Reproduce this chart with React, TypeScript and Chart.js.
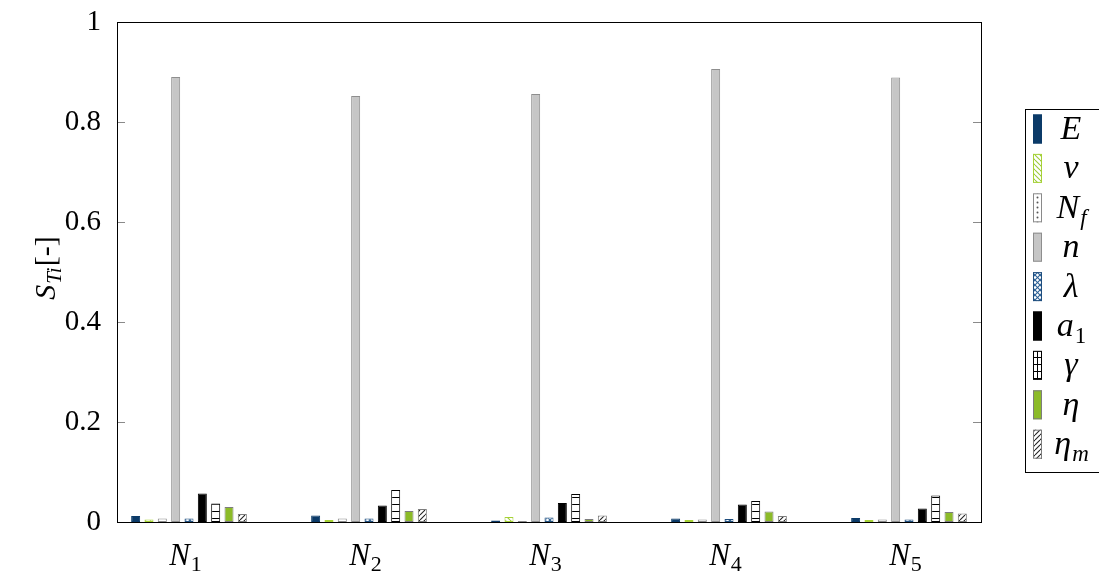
import React, { useEffect, useRef } from 'react';
import { Chart, registerables } from 'chart.js';

Chart.register(...registerables);

// Group subscripts (N_1 ... N_5) and their positions on the x axis
const groupSubs = ['1', '2', '3', '4', '5'];
const groupPositions = [1, 2, 3, 4, 5];

// Total-effect sensitivity index per parameter, one value per group
const valuesE = [0.012, 0.013, 0.003, 0.007, 0.008];
const valuesNu = [0.005, 0.004, 0.010, 0.004, 0.004];
const valuesNf = [0.007, 0.007, 0.002, 0.005, 0.005];
const valuesN = [0.890, 0.852, 0.856, 0.906, 0.889];
const valuesLambda = [0.007, 0.007, 0.009, 0.006, 0.005];
const valuesA1 = [0.057, 0.033, 0.038, 0.035, 0.027];
const valuesGamma = [0.037, 0.064, 0.056, 0.042, 0.053];
const valuesEta = [0.030, 0.022, 0.006, 0.021, 0.020];
const valuesEtaM = [0.016, 0.026, 0.013, 0.012, 0.017];

const yTicks = [0, 0.2, 0.4, 0.6, 0.8, 1];

const SERIF = '"Liberation Serif", "DejaVu Serif", serif';

type Fill = 'solid' | 'nw' | 'dots' | 'cross' | 'rungs' | 'ne';

interface SeriesDef {
  main: string;
  sub?: string;
  subItalic?: boolean;
  values: number[];
  fill: Fill;
  color: string;
  border: string;
}

const series: SeriesDef[] = [
  { main: 'E', values: valuesE, fill: 'solid', color: '#0b3a68', border: '#0b3a68' },
  { main: 'ν', values: valuesNu, fill: 'nw', color: '#9cc83a', border: '#a6d236' },
  { main: 'N', sub: 'f', subItalic: true, values: valuesNf, fill: 'dots', color: '#555555', border: '#8a8a8a' },
  { main: 'n', values: valuesN, fill: 'solid', color: '#c6c6c6', border: '#8e8e8e' },
  { main: 'λ', values: valuesLambda, fill: 'cross', color: '#2b6096', border: '#1f4e7e' },
  { main: 'a', sub: '1', subItalic: false, values: valuesA1, fill: 'solid', color: '#000000', border: '#000000' },
  { main: 'γ', values: valuesGamma, fill: 'rungs', color: '#000000', border: '#000000' },
  { main: 'η', values: valuesEta, fill: 'solid', color: '#8cbb28', border: '#7d7d7d' },
  { main: 'η', sub: 'm', subItalic: true, values: valuesEtaM, fill: 'ne', color: '#222222', border: '#7d7d7d' },
];

function makeFill(ctx: CanvasRenderingContext2D, fill: Fill, color: string): string | CanvasPattern {
  if (fill === 'solid') return color;
  const tile = document.createElement('canvas');
  const s = fill === 'rungs' ? 7 : 5;
  tile.width = s;
  tile.height = s;
  const t = tile.getContext('2d') as CanvasRenderingContext2D;
  t.fillStyle = '#ffffff';
  t.fillRect(0, 0, s, s);
  t.strokeStyle = color;
  t.fillStyle = color;
  t.lineWidth = 1.1;
  const back = () => {
    for (const k of [-s, 0, s]) {
      t.beginPath();
      t.moveTo(k, 0);
      t.lineTo(k + s, s);
      t.stroke();
    }
  };
  const fwd = () => {
    for (const k of [-s, 0, s]) {
      t.beginPath();
      t.moveTo(k, s);
      t.lineTo(k + s, 0);
      t.stroke();
    }
  };
  if (fill === 'nw') back();
  if (fill === 'ne') fwd();
  if (fill === 'cross') {
    back();
    fwd();
  }
  if (fill === 'dots') {
    t.beginPath();
    t.arc(2.5, 2.5, 1, 0, Math.PI * 2);
    t.fill();
  }
  if (fill === 'rungs') {
    t.fillRect(0, 0, s, 1);
  }
  return ctx.createPattern(tile, 'repeat') as CanvasPattern;
}

// Draws a math-style label: italic main glyph with optional subscript
function drawMath(
  ctx: CanvasRenderingContext2D,
  main: string,
  sub: string | undefined,
  subItalic: boolean,
  cx: number,
  baseline: number,
  size: number,
  subSize: number,
  subDrop: number
) {
  ctx.font = `italic ${size}px ${SERIF}`;
  const wMain = ctx.measureText(main).width;
  let wSub = 0;
  const subFont = `${subItalic ? 'italic ' : ''}${subSize}px ${SERIF}`;
  if (sub) {
    ctx.font = subFont;
    wSub = ctx.measureText(sub).width;
  }
  const x0 = cx - (wMain + wSub) / 2;
  ctx.textAlign = 'left';
  ctx.textBaseline = 'alphabetic';
  ctx.font = `italic ${size}px ${SERIF}`;
  ctx.fillText(main, x0, baseline);
  if (sub) {
    ctx.font = subFont;
    ctx.fillText(sub, x0 + wMain + 1, baseline + subDrop);
  }
}

const decorations = {
  id: 'decorations',
  afterDraw(chart: Chart, _args: unknown, opts: { fills: (string | CanvasPattern)[] }) {
    const ctx = chart.ctx;
    const { left, right, top, bottom } = chart.chartArea;
    const y = chart.scales.y;
    const x = chart.scales.x;
    ctx.save();

    // y tick marks on both sides
    ctx.strokeStyle = '#8a8a8a';
    ctx.lineWidth = 1;
    yTicks.forEach((v) => {
      if (v === 0 || v === 1) return;
      const py = Math.round(y.getPixelForValue(v)) + 0.5;
      ctx.beginPath();
      ctx.moveTo(left, py);
      ctx.lineTo(left + 8, py);
      ctx.moveTo(right, py);
      ctx.lineTo(right - 8, py);
      ctx.stroke();
    });

    // frame
    ctx.strokeStyle = '#000000';
    ctx.lineWidth = 1;
    ctx.strokeRect(Math.round(left) + 0.5, Math.round(top) + 0.5, Math.round(right - left), Math.round(bottom - top));

    // x labels N_i
    ctx.fillStyle = '#000000';
    groupPositions.forEach((p, i) => {
      const px = x.getPixelForValue(p);
      drawMath(ctx, 'N', groupSubs[i], false, px - 4, bottom + 43, 31, 22, 6);
    });

    // y axis title S_{Ti}[-]
    ctx.save();
    ctx.translate(46, 268);
    ctx.rotate(-Math.PI / 2);
    ctx.font = `italic 30px ${SERIF}`;
    const wS = ctx.measureText('S').width;
    ctx.font = `italic 21px ${SERIF}`;
    const wT = ctx.measureText('Ti').width;
    ctx.font = `30px ${SERIF}`;
    const wB = ctx.measureText('[-]').width;
    const total = wS + wT + wB + 2;
    let cx = -total / 2;
    ctx.textBaseline = 'alphabetic';
    ctx.textAlign = 'left';
    ctx.font = `italic 30px ${SERIF}`;
    ctx.fillText('S', cx, 9);
    cx += wS + 1;
    ctx.font = `italic 21px ${SERIF}`;
    ctx.fillText('Ti', cx, 15);
    cx += wT + 1;
    ctx.font = `30px ${SERIF}`;
    ctx.fillText('[-]', cx, 9);
    ctx.restore();

    // legend
    const boxLeft = 1025.5;
    const boxTop = 109.5;
    const boxBottom = 472.5;
    ctx.strokeStyle = '#000000';
    ctx.lineWidth = 1;
    ctx.strokeRect(boxLeft, boxTop, 120, boxBottom - boxTop);
    series.forEach((s, i) => {
      const cy = 129 + i * 39.4;
      ctx.fillStyle = opts.fills[i];
      ctx.fillRect(1033, cy - 14.5, 9, 29);
      ctx.strokeStyle = s.border;
      ctx.strokeRect(1033.5, cy - 14, 8, 28);
      if (s.fill === 'rungs') {
        ctx.beginPath();
        ctx.moveTo(1037.5, cy - 14);
        ctx.lineTo(1037.5, cy + 14);
        ctx.stroke();
      }
      ctx.fillStyle = '#000000';
      drawMath(ctx, s.main, s.sub, !!s.subItalic, 1071, cy + 10, 34, 23, 7);
    });

    ctx.restore();
  },
};

export default function App() {
  const canvasRef = useRef<HTMLCanvasElement | null>(null);

  useEffect(() => {
    const canvas = canvasRef.current;
    if (!canvas) return;
    const ctx = canvas.getContext('2d') as CanvasRenderingContext2D;
    const fills = series.map((s) => makeFill(ctx, s.fill, s.color));

    const chart = new Chart(canvas, {
      type: 'bar',
      data: {
        datasets: series.map((s, i) => ({
          label: s.main + (s.sub ?? ''),
          data: s.values.map((v, j) => ({ x: groupPositions[j], y: v })),
          backgroundColor: fills[i],
          borderColor: s.border,
          borderWidth: 1,
          borderSkipped: false,
          categoryPercentage: 0.667,
          barPercentage: 0.675,
        })),
      },
      options: {
        animation: false,
        responsive: true,
        maintainAspectRatio: false,
        layout: { padding: { top: 22, right: 118, left: 0, bottom: 0 } },
        plugins: {
          legend: { display: false },
          tooltip: { enabled: false },
          decorations: { fills },
        } as any,
        scales: {
          x: {
            type: 'linear',
            min: 0.6,
            max: 5.4,
            offset: false,
            grid: { display: false },
            border: { display: false },
            ticks: { display: false },
            afterBuildTicks: (scale: any) => {
              scale.ticks = groupPositions.map((v) => ({ value: v }));
            },
            afterFit: (scale: any) => {
              scale.height = 52;
              scale.paddingLeft = 0;
              scale.paddingRight = 0;
            },
          },
          y: {
            min: 0,
            max: 1,
            grid: { display: false, drawTicks: false },
            border: { display: false },
            afterBuildTicks: (scale: any) => {
              scale.ticks = yTicks.map((v) => ({ value: v }));
            },
            ticks: {
              padding: 16,
              color: '#000000',
              font: { family: SERIF, size: 29 },
              callback: (v: any) => {
                const n = Number(v);
                if (n === 0) return '0';
                if (n === 1) return '1';
                return n.toFixed(1);
              },
            },
            afterFit: (scale: any) => {
              scale.width = 117;
              scale.paddingTop = 0;
              scale.paddingBottom = 0;
            },
          },
        },
      },
      plugins: [decorations as any],
    });

    return () => chart.destroy();
  }, []);

  return (
    <div style={{ position: 'fixed', left: 0, top: 0, width: 1099, height: 574, background: '#ffffff' }}>
      <canvas ref={canvasRef} />
    </div>
  );
}
